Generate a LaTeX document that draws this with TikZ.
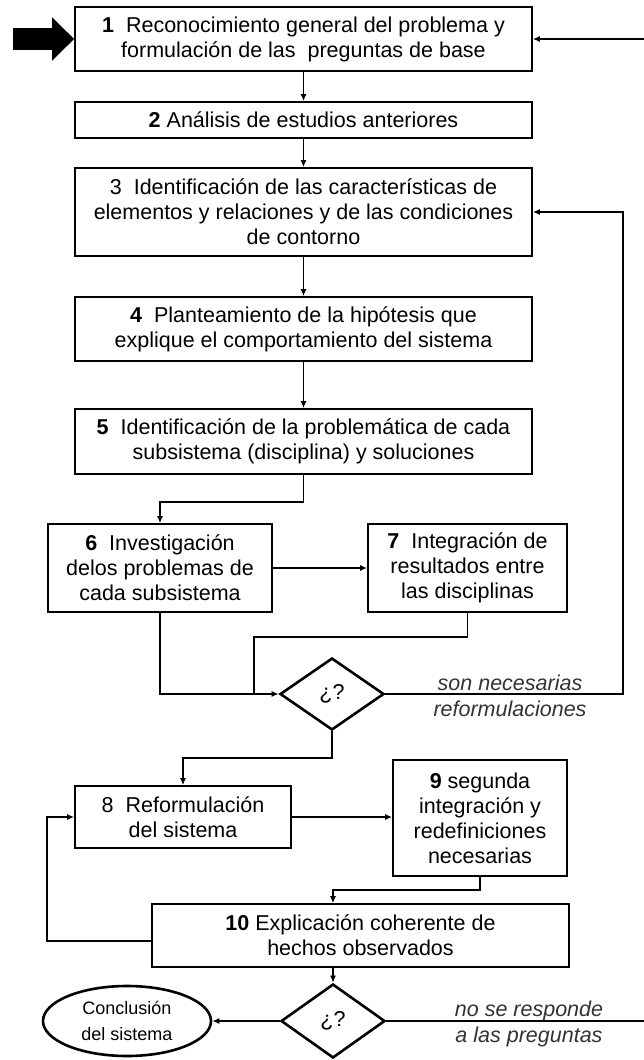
\documentclass[tikz,border=0pt]{standalone}
\usepackage{fontspec}
\setmainfont{Liberation Sans}
\usetikzlibrary{arrows.meta,shapes.geometric}
\newcommand\bxfont{\fontsize{21.5}{25}\selectfont}
\newcommand\lbfont{\fontsize{21.5}{26}\selectfont\itshape}
\newcommand\elfont{\fontsize{18}{26}\selectfont}
\begin{document}
\begin{tikzpicture}[x=1pt,y=-1pt,
  box/.style={draw, line width=1.7pt, inner sep=0pt, align=center, font=\bxfont},
  conn/.style={line width=1.5pt},
  arr/.style={conn, -{Latex[length=7pt,width=6pt]}},
  dec/.style={diamond, draw, line width=2.6pt, inner sep=0pt, font=\bxfont},
  lbl/.style={font=\lbfont, text=black!80, align=center, inner sep=0pt},
]
\fill[white] (0,0) rectangle (644,1060);
\useasboundingbox (0,0) rectangle (644,1060);

\node[box, minimum width=457pt, minimum height=64pt] (b1) at (303.5,39)
  {\textbf{1}\ \ Reconocimiento general del problema y\\formulación de las\ \ preguntas de base};
\node[box, minimum width=457pt, minimum height=36pt] (b2) at (303.5,120)
  {\textbf{2} Análisis de estudios anteriores};
\node[box, minimum width=457pt, minimum height=88pt] (b3) at (303.5,212)
  {3\ \ Identificación de las características de\\elementos y relaciones y de las condiciones\\de contorno};
\node[box, minimum width=457pt, minimum height=64pt] (b4) at (303.5,329)
  {\textbf{4}\ \ Planteamiento de la hipótesis que\\explique el comportamiento del sistema};
\node[box, minimum width=457pt, minimum height=65pt] (b5) at (303.5,441.5)
  {\textbf{5}\ \ Identificación de la problemática de cada\\subsistema (disciplina) y soluciones};
\node[box, minimum width=224pt, minimum height=88pt] (b6) at (160,568)
  {\textbf{6}\ \ Investigación\\delos problemas de\\cada subsistema};
\node[box, minimum width=199pt, minimum height=88pt] (b7) at (467.5,568)
  {\textbf{7}\ \ Integración de\\resultados entre\\las disciplinas};
\node[dec, minimum width=104pt, minimum height=72pt] (d1) at (332,694) {¿?};
\node[lbl] (l1) at (510,696) {son necesarias\\reformulaciones};
\node[box, minimum width=216pt, minimum height=62pt] (b8) at (183,817)
  {8\ \ Reformulación\\del sistema};
\node[box, minimum width=174pt, minimum height=116pt] (b9) at (480,818)
  {\textbf{9} segunda\\integración y\\redefiniciones\\necesarias};
\node[box, minimum width=417pt, minimum height=63pt] (b10) at (360.5,935.5)
  {\textbf{10} Explicación coherente de\\hechos observados};
\node[dec, minimum width=104pt, minimum height=74pt] (d2) at (333,1021) {¿?};
\node[ellipse, draw, line width=2.6pt, minimum width=168pt, minimum height=70pt,
  inner sep=0pt, align=center, font=\elfont] (ell) at (127,1021) {Conclusión\\del sistema};
\node[lbl] (l2) at (529,1024) {no se responde\\a las preguntas};

% entry arrow
\draw[line width=22pt, -{Triangle[length=22pt,width=42pt]}] (13,39) -- (b1.west);

\coordinate (k56) at (160,502);
\coordinate (k7) at (254,637);
\coordinate (r1) at (623,694);
\coordinate (k8) at (183,758);
\coordinate (k9) at (333,890);
\coordinate (k10) at (47,941);
\coordinate (r2) at (645,1021);
\coordinate (r3) at (645,39);

\draw[arr] (b1.south) -- (b2.north);
\draw[arr] (b2.south) -- (b3.north);
\draw[arr] (b3.south) -- (b4.north);
\draw[arr] (b4.south) -- (b5.north);
\draw[arr] (b5.south) |- (k56) -- (b6.north);
\draw[arr] (b6.east) -- (b7.west);
\draw[arr] (b6.south) |- (d1.west);
\draw[conn] (b7.south) |- (k7) -- (k7 |- d1.west);
\draw[arr] (d1.east) -- (r1) |- (b3.east);
\draw[arr] (d1.south) |- (k8) -- (b8.north);
\draw[arr] (b8.east) -- (b8.east -| b9.west);
\draw[arr] (b9.south) |- (k9) -- (k9 |- b10.north);
\draw[arr] (b10.south -| d2.north) -- (d2.north);
\draw[arr] (b10.west |- k10) -- (k10) |- (b8.west);
\draw[arr] (d2.west) -- (ell.east);
\draw[arr] (d2.east) -- (r2) -- (r3) -- (b1.east);
\end{tikzpicture}
\end{document}
